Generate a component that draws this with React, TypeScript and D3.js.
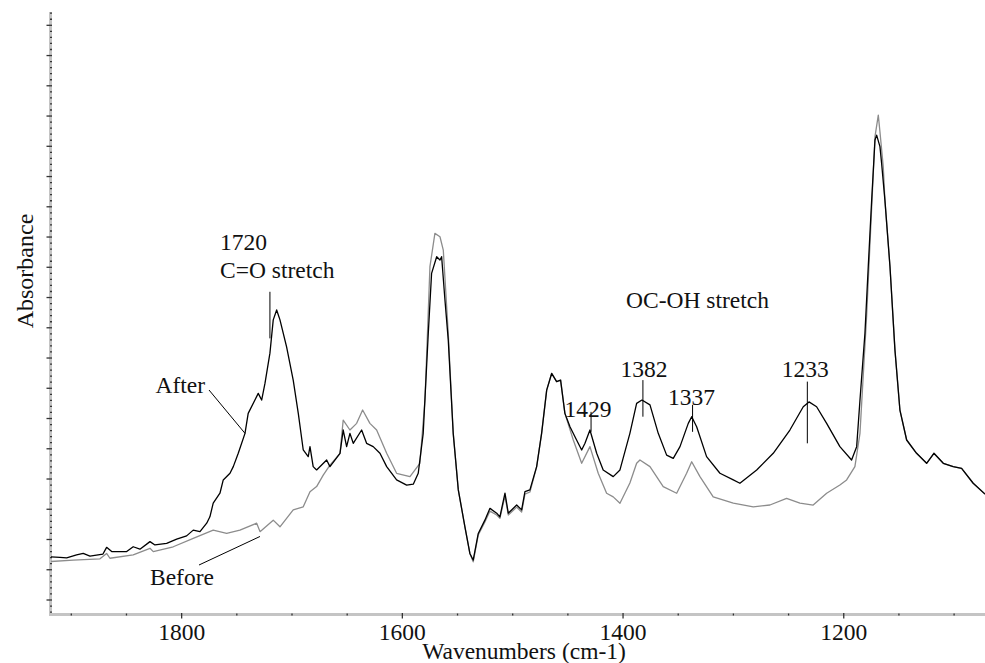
import React from "react";
import * as d3 from "d3";

// IR spectrum after treatment (cm-1, absorbance)
const wavenumbersAfter = [
  1919.3, 1910.3, 1904.2, 1895.2, 1889.2, 1883.1, 1871.3, 1868.0, 1863.4, 1849.8,
  1843.9, 1837.8, 1828.7, 1824.2, 1813.6, 1804.5, 1795.5, 1789.5, 1783.4, 1777.3,
  1774.4, 1771.4, 1765.3, 1762.3, 1756.2, 1753.2, 1748.7, 1742.6, 1739.7, 1733.6,
  1730.6, 1727.5, 1724.5, 1720.0, 1717.0, 1713.9, 1710.9, 1704.9, 1698.9, 1694.3,
  1689.8, 1685.3, 1683.7, 1680.8, 1677.7, 1668.6, 1665.6, 1656.5, 1653.6, 1650.5,
  1647.5, 1644.5, 1636.9, 1632.4, 1626.4, 1620.3, 1614.2, 1605.2, 1596.1, 1590.1,
  1585.6, 1581.1, 1576.5, 1573.5, 1568.9, 1565.9, 1564.4, 1561.4, 1558.4, 1553.9,
  1549.3, 1543.3, 1538.8, 1535.8, 1531.2, 1525.2, 1520.6, 1514.5, 1511.6, 1507.0,
  1504.0, 1496.4, 1491.9, 1488.9, 1484.4, 1478.3, 1473.8, 1469.2, 1464.7, 1460.2,
  1456.6, 1452.7, 1448.1, 1442.1, 1437.5, 1434.5, 1430.0, 1423.9, 1418.0, 1408.9,
  1402.8, 1393.8, 1387.7, 1382.9, 1375.6, 1368.1, 1360.5, 1354.5, 1348.4, 1340.9,
  1337.8, 1333.3, 1324.3, 1312.2, 1300.1, 1294.1, 1278.9, 1263.9, 1248.8, 1236.7,
  1231.5, 1224.6, 1215.5, 1203.5, 1192.9, 1188.3, 1185.3, 1180.8, 1177.8, 1174.7,
  1171.7, 1170.2, 1167.2, 1165.7, 1162.7, 1158.1, 1153.6, 1149.1, 1143.0, 1134.0,
  1124.9, 1118.3, 1109.8, 1100.8, 1093.2, 1082.7, 1072.0,
];
const absorbanceAfter = [
  0.143, 0.141, 0.139, 0.149, 0.154, 0.145, 0.152, 0.174, 0.160, 0.160,
  0.176, 0.168, 0.193, 0.182, 0.187, 0.201, 0.212, 0.231, 0.226, 0.254,
  0.275, 0.320, 0.353, 0.397, 0.419, 0.441, 0.485, 0.551, 0.617, 0.661,
  0.683, 0.661, 0.716, 0.816, 0.926, 0.959, 0.926, 0.837, 0.727, 0.617,
  0.496, 0.474, 0.507, 0.441, 0.430, 0.463, 0.441, 0.485, 0.562, 0.507,
  0.551, 0.518, 0.562, 0.518, 0.507, 0.485, 0.441, 0.397, 0.380, 0.383,
  0.419, 0.551, 0.882, 1.080, 1.135, 1.124, 1.135, 0.992, 0.860, 0.551,
  0.364, 0.242, 0.154, 0.132, 0.220, 0.264, 0.303, 0.287, 0.275, 0.353,
  0.287, 0.314, 0.298, 0.358, 0.364, 0.441, 0.551, 0.694, 0.749, 0.722,
  0.727, 0.617, 0.573, 0.529, 0.496, 0.518, 0.562, 0.485, 0.430, 0.408,
  0.430, 0.551, 0.650, 0.661, 0.645, 0.551, 0.479, 0.468, 0.507, 0.584,
  0.606, 0.573, 0.474, 0.419, 0.397, 0.386, 0.430, 0.485, 0.562, 0.639,
  0.655, 0.639, 0.584, 0.507, 0.463, 0.507, 0.661, 0.882, 1.102, 1.322,
  1.521, 1.537, 1.499, 1.444, 1.322, 1.102, 0.826, 0.628, 0.529, 0.485,
  0.452, 0.485, 0.452, 0.441, 0.435, 0.386, 0.350,
];

// IR spectrum before treatment (cm-1, absorbance)
const wavenumbersBefore = [
  1919.3, 1898.2, 1874.0, 1868.0, 1865.0, 1843.9, 1828.7, 1825.7, 1807.6, 1789.5,
  1771.4, 1759.2, 1747.2, 1732.0, 1729.0, 1717.0, 1710.9, 1698.9, 1689.8, 1683.7,
  1677.7, 1671.7, 1665.6, 1656.5, 1653.6, 1647.5, 1641.4, 1636.0, 1629.4, 1623.3,
  1614.2, 1605.2, 1593.1, 1584.1, 1579.5, 1575.0, 1570.5, 1565.9, 1562.9, 1558.4,
  1553.9, 1549.3, 1543.3, 1538.8, 1535.8, 1531.2, 1525.2, 1520.6, 1514.5, 1511.6,
  1507.0, 1504.0, 1496.4, 1491.9, 1488.9, 1484.4, 1478.3, 1473.8, 1469.2, 1464.7,
  1460.2, 1456.6, 1452.7, 1445.1, 1437.5, 1430.0, 1422.5, 1414.9, 1408.9, 1402.8,
  1393.8, 1387.7, 1384.7, 1375.6, 1363.6, 1351.4, 1342.4, 1337.8, 1330.3, 1318.3,
  1300.1, 1282.0, 1266.9, 1251.8, 1239.7, 1227.7, 1215.5, 1203.5, 1197.4, 1189.9,
  1185.3, 1179.3, 1171.7, 1168.7, 1167.2, 1164.2, 1162.7, 1158.1, 1153.6, 1149.1,
  1143.0, 1134.0, 1124.9, 1118.3, 1109.8, 1100.8, 1093.2, 1082.7, 1072.0,
];
const absorbanceBefore = [
  0.127, 0.132, 0.136, 0.154, 0.138, 0.149, 0.171, 0.160, 0.176, 0.204,
  0.231, 0.220, 0.231, 0.254, 0.226, 0.264, 0.242, 0.298, 0.308, 0.358,
  0.375, 0.413, 0.446, 0.485, 0.595, 0.562, 0.584, 0.628, 0.584, 0.562,
  0.485, 0.419, 0.408, 0.452, 0.661, 1.102, 1.212, 1.201, 1.157, 0.882,
  0.551, 0.364, 0.242, 0.154, 0.126, 0.215, 0.258, 0.294, 0.281, 0.270,
  0.344, 0.281, 0.307, 0.291, 0.350, 0.357, 0.440, 0.551, 0.694, 0.749,
  0.722, 0.727, 0.617, 0.529, 0.452, 0.507, 0.419, 0.353, 0.341, 0.320,
  0.387, 0.452, 0.463, 0.441, 0.375, 0.353, 0.419, 0.457, 0.408, 0.341,
  0.320, 0.308, 0.314, 0.336, 0.320, 0.314, 0.353, 0.380, 0.397, 0.441,
  0.551, 0.937, 1.532, 1.603, 1.548, 1.432, 1.322, 1.102, 0.826, 0.628,
  0.529, 0.485, 0.452, 0.485, 0.452, 0.441, 0.435, 0.386, 0.350,
];

const xMajorTicks = [1800, 1600, 1400, 1200];
const xMinorTicks = [1900, 1850, 1750, 1700, 1650, 1550, 1500, 1450, 1350, 1300, 1250, 1150, 1100];

const peakWavenumbers = [1720, 1429, 1382, 1337, 1233];
const peakLabels = ["1720", "1429", "1382", "1337", "1233"];

const WIDTH = 985;
const HEIGHT = 663;
const FONT = "'Liberation Serif', 'Times New Roman', serif";
const FONT_SIZE = 23.5;

export default function App() {
  const x = d3.scaleLinear().domain([1919.3, 1072.0]).range([50, 985]);
  const y = d3.scaleLinear().domain([-0.0463, 1.944]).range([614, 12]);

  const line = d3
    .line<[number, number]>()
    .x((d) => x(d[0]))
    .y((d) => y(d[1]))
    .curve(d3.curveLinear);

  const after = wavenumbersAfter.map((w, i) => [w, absorbanceAfter[i]] as [number, number]);
  const before = wavenumbersBefore.map((w, i) => [w, absorbanceBefore[i]] as [number, number]);

  const yMajor = d3.range(0, 20).map((k) => k * 0.1);
  const yMinor = d3.range(-2, 98).filter((k) => k % 5 !== 0).map((k) => k * 0.02);

  // leader-line extents (absorbance) and label placement for each peak marker
  const peakLayout = [
    { top: 1.019, bottom: 0.865, dx: -50, anchor: "start", baseline: 250 },
    { top: 0.622, bottom: 0.556, dx: -3, anchor: "middle", baseline: 417 },
    { top: 0.727, bottom: 0.606, dx: 1, anchor: "middle", baseline: 377 },
    { top: 0.645, bottom: 0.556, dx: -1, anchor: "middle", baseline: 405 },
    { top: 0.722, bottom: 0.518, dx: -2, anchor: "middle", baseline: 377 },
  ];

  const axisGrey = "#c4c4c4";
  const tickColor = "#333";

  return (
    <svg
      width={WIDTH}
      height={HEIGHT}
      style={{ position: "absolute", left: 0, top: 0, background: "#fff" }}
      fontFamily={FONT}
    >
      <rect x={0} y={0} width={WIDTH} height={HEIGHT} fill="#fff" />
      <defs>
        <clipPath id="plot">
          <rect x={51} y={0} width={WIDTH - 51} height={613} />
        </clipPath>
      </defs>

      {/* axis bands */}
      <line x1={50.5} x2={50.5} y1={12} y2={616} stroke={axisGrey} strokeWidth={3} />
      <line x1={49} x2={WIDTH} y1={614.5} y2={614.5} stroke={axisGrey} strokeWidth={3} />

      {/* y ticks */}
      {yMinor.map((v, i) => (
        <line key={"ym" + i} x1={50} x2={52} y1={y(v)} y2={y(v)} stroke={tickColor} strokeWidth={1.3} />
      ))}
      {yMajor.map((v, i) => (
        <line key={"yM" + i} x1={46.5} x2={52} y1={y(v)} y2={y(v)} stroke={tickColor} strokeWidth={1.3} />
      ))}

      {/* x ticks */}
      {xMinorTicks.map((w) => (
        <line key={"xm" + w} x1={x(w)} x2={x(w)} y1={613.5} y2={615.5} stroke={tickColor} strokeWidth={1.3} />
      ))}
      {xMajorTicks.map((w) => (
        <g key={"xM" + w}>
          <line x1={x(w)} x2={x(w)} y1={613} y2={618.5} stroke={tickColor} strokeWidth={1.3} />
          <text x={x(w)} y={640} textAnchor="middle" fontSize={FONT_SIZE} fill="#111">
            {w}
          </text>
        </g>
      ))}

      {/* spectra */}
      <g clipPath="url(#plot)" fill="none" strokeLinejoin="round">
        <path d={line(before) ?? ""} stroke="#8c8c8c" strokeWidth={1.3} />
        <path d={line(after) ?? ""} stroke="#000" strokeWidth={1.3} />
      </g>

      {/* peak markers */}
      {peakWavenumbers.map((w, i) => {
        const L = peakLayout[i];
        const px = x(w);
        return (
          <g key={"pk" + w}>
            <line x1={px} x2={px} y1={y(L.top)} y2={y(L.bottom)} stroke="#000" strokeWidth={1} />
            <text
              x={px + L.dx}
              y={L.baseline}
              textAnchor={L.anchor as any}
              fontSize={FONT_SIZE}
              fill="#111"
            >
              {peakLabels[i]}
            </text>
          </g>
        );
      })}
      <text x={220} y={278} fontSize={FONT_SIZE} fill="#111">
        C=O stretch
      </text>
      <text x={626} y={308} fontSize={FONT_SIZE} fill="#111">
        OC-OH stretch
      </text>

      {/* series labels */}
      <text x={205} y={393} textAnchor="end" fontSize={FONT_SIZE} fill="#111">
        After
      </text>
      <line x1={209} y1={390} x2={x(1742.6)} y2={y(0.551)} stroke="#000" strokeWidth={1} />
      <text x={150} y={585} fontSize={FONT_SIZE} fill="#111">
        Before
      </text>
      <line x1={199} y1={565} x2={x(1729)} y2={y(0.21)} stroke="#000" strokeWidth={1} />

      {/* axis titles */}
      <text x={524} y={659} textAnchor="middle" fontSize={FONT_SIZE} fill="#111">
        Wavenumbers (cm-1)
      </text>
      <text
        transform="translate(33,271) rotate(-90)"
        textAnchor="middle"
        fontSize={24}
        fill="#111"
      >
        Absorbance
      </text>
    </svg>
  );
}
